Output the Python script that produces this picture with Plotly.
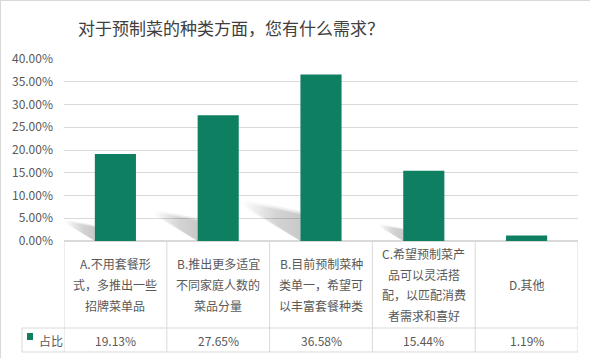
import plotly.graph_objects as go

# ---- data ----
title_text = "对于预制菜的种类方面，您有什么需求？"
category_lines = [
    ["A.不用套餐形", "式，多推出一些", "招牌菜单品"],
    ["B.推出更多适宜", "不同家庭人数的", "菜品分量"],
    ["B.目前预制菜种", "类单一，希望可", "以丰富套餐种类"],
    ["C.希望预制菜产", "品可以灵活搭", "配，以匹配消费", "者需求和喜好"],
    ["D.其他"],
]
values = [19.13, 27.65, 36.58, 15.44, 1.19]
series_name = "占比"
y_ticks = [0, 5, 10, 15, 20, 25, 30, 35, 40]

# ---- layout geometry ----
W, H = 590, 358
L, R, T, B = 64, 12, 59, 117
PW, PH = W - L - R, H - T - B
FONT = "Noto Sans CJK SC, Microsoft YaHei, sans-serif"
GREEN = "#0f7f62"
LINE = "#d9d9d9"
TXT = "#595959"

def px_x(px):
    return (px - L) / PW

def px_y(py):
    return (H - B - py) / PH

xs = list(range(len(values)))
bar_w = 0.4

fig = go.Figure()

# soft perspective shadows (derived from values), layered for a blurred look
for i, v in enumerate(values):
    xl = i - bar_w / 2
    dx = 0.0155 * v
    for grow, alpha in ((0.012 * v, 0.06), (0.0, 0.09), (-0.01 * v, 0.08)):
        sx = [xl - dx, xl - dx, xl, xl, xl - dx]
        sy = [0.24 * v + grow, 0.215 * v - grow, 0.0, 0.17 * v + grow, 0.24 * v + grow]
        fig.add_trace(go.Scatter(
            x=sx, y=sy, mode="lines", line=dict(width=0), fill="toself",
            fillgradient=dict(type="horizontal",
                              colorscale=[[0, "rgba(0,0,0,0)"], [0.6, f"rgba(0,0,0,{alpha * 0.8})"],
                                          [1, f"rgba(0,0,0,{alpha})"]]),
            hoverinfo="skip", showlegend=False))

fig.add_trace(go.Bar(x=xs, y=values, width=bar_w, marker=dict(color=GREEN, line=dict(width=0)),
                     name=series_name, showlegend=False))

shapes = []
# table vertical lines
for k in range(len(values) + 1):
    shapes.append(dict(type="line", xref="x", yref="paper", x0=k - 0.5, x1=k - 0.5,
                       y0=px_y(241), y1=px_y(352), line=dict(color=LINE, width=1)))
# table horizontal lines
for py in (328, 352):
    shapes.append(dict(type="line", xref="paper", yref="paper", x0=px_x(22), x1=1,
                       y0=px_y(py), y1=px_y(py), line=dict(color=LINE, width=1)))
shapes.append(dict(type="line", xref="paper", yref="paper", x0=px_x(22), x1=px_x(22),
                   y0=px_y(328), y1=px_y(352), line=dict(color=LINE, width=1)))
# legend key
shapes.append(dict(type="rect", xref="paper", yref="paper", x0=px_x(27), x1=px_x(33),
                   y0=px_y(340), y1=px_y(333), fillcolor=GREEN, line=dict(width=0)))
# outer frame (top, left)
shapes.append(dict(type="line", xref="paper", yref="paper", x0=px_x(0), x1=px_x(590),
                   y0=px_y(0.5), y1=px_y(0.5), line=dict(color=LINE, width=1)))
shapes.append(dict(type="line", xref="paper", yref="paper", x0=px_x(0.5), x1=px_x(0.5),
                   y0=px_y(0), y1=px_y(358), line=dict(color=LINE, width=1)))

annotations = []
annotations.append(dict(text=title_text, xref="paper", yref="paper", x=px_x(231), y=px_y(28),
                        showarrow=False, xanchor="center", yanchor="middle",
                        font=dict(family=FONT, size=17, color="#404040")))
line_gap = 20.8
for i, lines in enumerate(category_lines):
    n = len(lines)
    for j, s in enumerate(lines):
        cy = 284.5 + (j - (n - 1) / 2) * line_gap
        annotations.append(dict(text=s, xref="x", yref="paper", x=i, y=px_y(cy), showarrow=False,
                                xanchor="center", yanchor="middle",
                                font=dict(family=FONT, size=12, color=TXT)))
    annotations.append(dict(text=f"{values[i]:.2f}%", xref="x", yref="paper", x=i, y=px_y(340),
                            showarrow=False, xanchor="center", yanchor="middle",
                            font=dict(family=FONT, size=12, color=TXT)))
annotations.append(dict(text=series_name, xref="paper", yref="paper", x=px_x(37), y=px_y(340),
                        showarrow=False, xanchor="left", yanchor="middle",
                        font=dict(family=FONT, size=12, color=TXT)))

fig.update_layout(
    width=W, height=H, margin=dict(l=L, r=R, t=T, b=B),
    paper_bgcolor="white", plot_bgcolor="white",
    bargap=0.6, shapes=shapes, annotations=annotations,
    xaxis=dict(range=[-0.5, len(values) - 0.5], showticklabels=False, showgrid=False,
               zeroline=False, showline=False, ticks="", fixedrange=True),
    yaxis=dict(range=[0, 40], tickvals=y_ticks, ticktext=[f"{t:.2f}%" for t in y_ticks],
               showgrid=True, gridcolor=LINE, gridwidth=1, zeroline=True, zerolinecolor=LINE,
               showline=False, ticks="", ticklabelstandoff=10,
               tickfont=dict(family=FONT, size=12, color=TXT), fixedrange=True),
    font=dict(family=FONT),
)

fig.write_html("out.html", config={"displayModeBar": False},
               post_script="document.body.style.margin='0';document.body.style.overflow='hidden';")
